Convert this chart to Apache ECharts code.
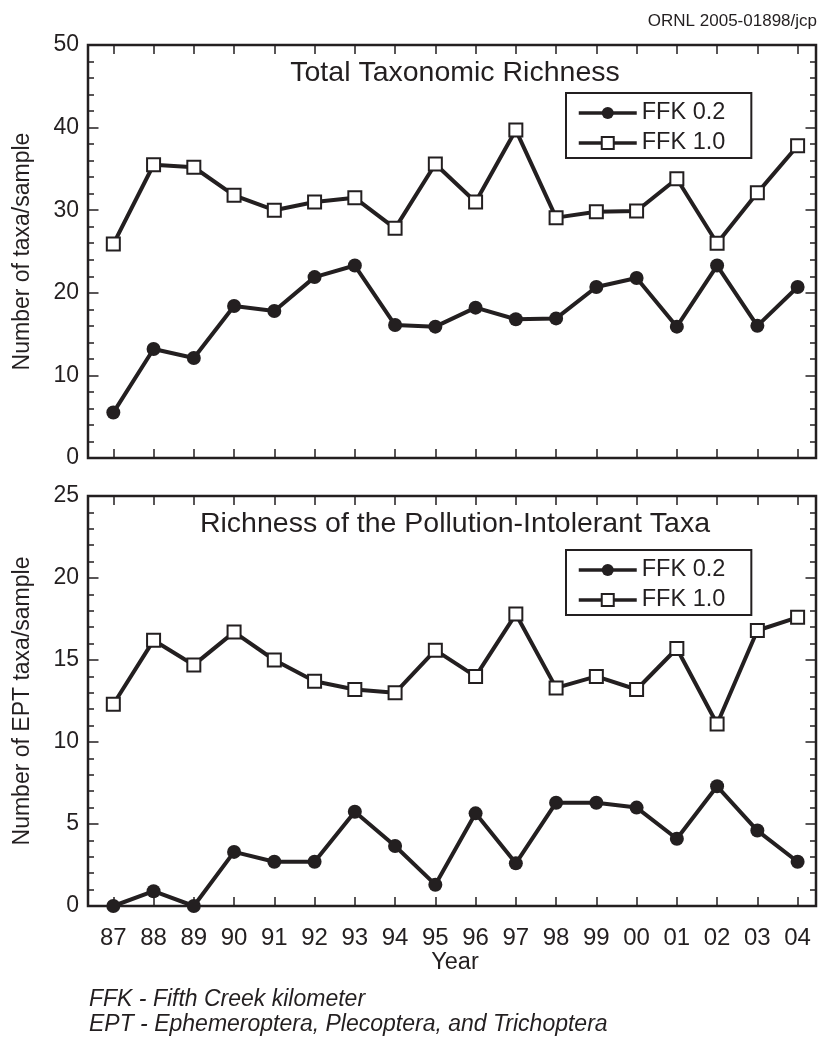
<!DOCTYPE html>
<html>
<head>
<meta charset="utf-8">
<script src="https://cdn.jsdelivr.net/npm/echarts@6/dist/echarts.min.js"></script>
<style>
html,body{margin:0;padding:0;background:#fff;}
#chart{width:818px;height:1038px;}
</style>
</head>
<body>
<div id="chart"></div>
<script>
// ---- data ----
var years = ['87','88','89','90','91','92','93','94','95','96','97','98','99','00','01','02','03','04'];
var seriesNames = ['FFK 0.2', 'FFK 1.0'];
var totalFFK02 = [5.5,13.2,12.1,18.4,17.8,21.9,23.3,16.1,15.9,18.2,16.8,16.9,20.7,21.8,15.9,23.3,16.0,20.7];
var totalFFK10 = [25.9,35.5,35.2,31.8,30.0,31.0,31.5,27.8,35.6,31.0,39.7,29.1,29.8,29.9,33.8,26.0,32.1,37.8];
var eptFFK02 = [0,0.9,0,3.3,2.7,2.7,5.75,3.66,1.3,5.65,2.6,6.3,6.3,6.0,4.1,7.3,4.6,2.7];
var eptFFK10 = [12.3,16.2,14.7,16.7,15.0,13.7,13.2,13.0,15.6,14.0,17.8,13.3,14.0,13.2,15.7,11.1,16.8,17.6];
var totalTicks = [0,10,20,30,40,50];
var eptTicks = [0,5,10,15,20,25];

// ---- style ----
var INK = '#231f20';
var FONT = "'Liberation Sans', Arial, Helvetica, sans-serif";

function pairs(arr){ return arr.map(function(v,i){ return [i, v]; }); }
var idx = years.map(function(_, i){ return i; });

function xAxisPair(gridIndex, showLabels){
  var base = {
    type: 'value', gridIndex: gridIndex, min: -0.629, max: 17.457,
    splitLine: {show:false},
    axisLine: {show:false, onZero:false},
    axisTick: {show:true, inside:true, length:9, customValues: idx, lineStyle:{color:INK, width:1.5}}
  };
  var bottom = Object.assign({}, base, {
    position: 'bottom',
    axisLabel: {show: showLabels, customValues: idx, margin: 20, fontSize: 24, color: INK, fontFamily: FONT,
      formatter: function(v){ return years[Math.round(v)]; }},
    name: showLabels ? 'Year' : '', nameLocation: 'middle', nameGap: 43,
    nameTextStyle: {fontSize: 23.5, color: INK, fontFamily: FONT, padding:[0,0,0,6]}
  });
  var top = Object.assign({}, base, {position: 'top', axisLabel: {show:false}});
  return [bottom, top];
}
function yAxisPair(gridIndex, ticks, name){
  var mn = ticks[0], mx = ticks[ticks.length-1], iv = ticks[1]-ticks[0];
  var base = {
    type: 'value', gridIndex: gridIndex, min: mn, max: mx, interval: iv,
    splitLine: {show:false},
    axisLine: {show:false, onZero:false},
    axisTick: {show:true, inside:true, length:10.5, lineStyle:{color:INK, width:1.5}},
    minorTick: {show:true, splitNumber:5, length:6, lineStyle:{color:INK, width:1.5}}
  };
  var left = Object.assign({}, base, {
    position: 'left',
    axisLabel: {show:true, margin: 9, fontSize: 23, color: INK, fontFamily: FONT},
    name: name, nameLocation: 'middle', nameGap: 54,
    nameTextStyle: {fontSize: 23, color: INK, fontFamily: FONT}
  });
  var right = Object.assign({}, base, {position: 'right', axisLabel: {show:false}});
  return [left, right];
}

var xs = xAxisPair(0, false).concat(xAxisPair(1, true));
var ys = yAxisPair(0, totalTicks, 'Number of taxa/sample').concat(yAxisPair(1, eptTicks, 'Number of EPT taxa/sample'));

function circleSeries(data, xi, yi){
  return {
    name: seriesNames[0], type: 'line', xAxisIndex: xi, yAxisIndex: yi,
    data: pairs(data), clip: false,
    symbol: 'circle', symbolSize: 14,
    lineStyle: {color: INK, width: 4},
    itemStyle: {color: INK, borderColor: INK, borderWidth: 0},
    emphasis: {disabled: true}, z: 3
  };
}
function squareSeries(data, xi, yi){
  return {
    name: seriesNames[1], type: 'line', xAxisIndex: xi, yAxisIndex: yi,
    data: pairs(data), clip: false,
    symbol: 'rect', symbolSize: 13,
    lineStyle: {color: INK, width: 4},
    itemStyle: {color: '#ffffff', borderColor: INK, borderWidth: 2},
    emphasis: {disabled: true}, z: 3
  };
}

function legendAt(top){
  return {
    data: seriesNames, orient: 'vertical', left: 566, top: top,
    itemWidth: 58, itemHeight: 15, itemGap: 6,
    padding: [8, 26, 3, 11],
    borderColor: INK, borderWidth: 2, backgroundColor: '#fff',
    textStyle: {fontSize: 23.5, color: INK, fontFamily: FONT},
    lineStyle: {width: 3.5, color: INK},
    selectedMode: false
  };
}

var chart = echarts.init(document.getElementById('chart'), null, {renderer: 'canvas'});
chart.setOption({
  animation: false,
  backgroundColor: '#fff',
  textStyle: {fontFamily: FONT},
  grid: [
    {left: 88, width: 728, top: 45, height: 413, show: true, borderColor: INK, borderWidth: 2.5, backgroundColor: 'transparent'},
    {left: 88, width: 728, top: 496, height: 410, show: true, borderColor: INK, borderWidth: 2.5, backgroundColor: 'transparent'}
  ],
  xAxis: xs,
  yAxis: ys,
  legend: [legendAt(93), legendAt(550)],
  series: [
    circleSeries(totalFFK02, 0, 0),
    squareSeries(totalFFK10, 0, 0),
    circleSeries(eptFFK02, 2, 2),
    squareSeries(eptFFK10, 2, 2)
  ],
  graphic: [
    {type:'text', x: 817, y: 21, z: 10, style:{text:'ORNL 2005-01898/jcp', font: '17px ' + FONT, fill: INK, textAlign:'right', textVerticalAlign:'middle'}},
    {type:'text', x: 455, y: 73, z: 10, style:{text:'Total Taxonomic Richness', font: '28.5px ' + FONT, fill: INK, textAlign:'center', textVerticalAlign:'middle'}},
    {type:'text', x: 455, y: 524, z: 10, style:{text:'Richness of the Pollution-Intolerant Taxa', font: '28.5px ' + FONT, fill: INK, textAlign:'center', textVerticalAlign:'middle'}},
    {type:'text', x: 89, y: 1000, z: 10, style:{text:'FFK - Fifth Creek kilometer', font: 'italic 23px ' + FONT, fill: INK, textAlign:'left', textVerticalAlign:'middle'}},
    {type:'text', x: 89, y: 1025, z: 10, style:{text:'EPT - Ephemeroptera, Plecoptera, and Trichoptera', font: 'italic 23px ' + FONT, fill: INK, textAlign:'left', textVerticalAlign:'middle'}}
  ]
});
</script>
</body>
</html>
